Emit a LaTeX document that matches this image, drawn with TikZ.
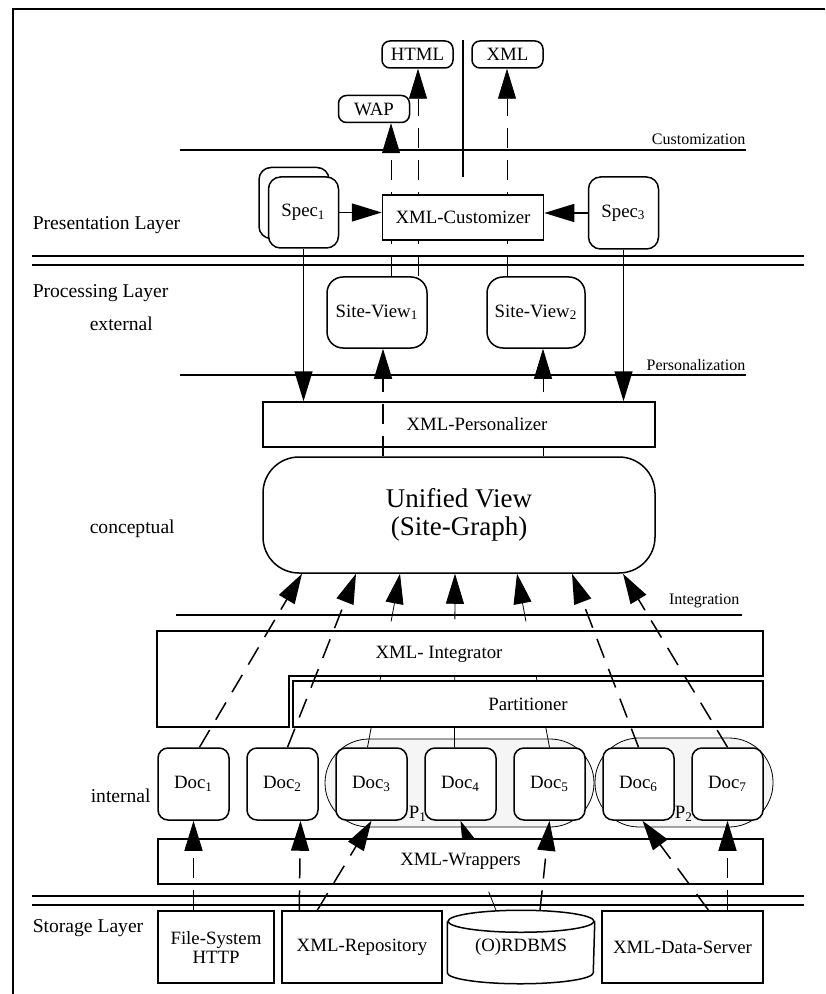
\documentclass[tikz,border=0pt]{standalone}
\usepackage{fontspec}
\setmainfont{Liberation Serif}
\usetikzlibrary{arrows.meta,backgrounds}

\definecolor{partgray}{gray}{0.96}

\begin{document}
\begin{tikzpicture}[x=0.5pt,y=-0.5pt,line width=0.75pt,
	every node/.style={font=\fontsize{9.4}{11}\selectfont},
	box/.style={draw,fill=white,inner sep=1pt},
	rbox/.style={box,rounded corners=6pt},
	docbox/.style={box,rounded corners=5pt,minimum width=35.5pt,minimum height=36pt},
	outbox/.style={box,rounded corners=4pt,minimum width=35.5pt,minimum height=13.5pt},
	flow/.style={dash pattern=on 10pt off 6pt,-{Triangle[length=15pt,width=9pt]}},
	feed/.style={-{Triangle[length=15pt,width=9pt]}},
	tag/.style={font=\fontsize{8}{9}\selectfont,anchor=base east,inner sep=0pt},
	layer/.style={font=\fontsize{9.8}{11}\selectfont,anchor=base west,inner sep=0pt}]
	\useasboundingbox (0,0) rectangle (825,994);
	\draw (13,994) -- (13,9) -- (825,9);

	\node[layer] (presl) at (32,230) {Presentation Layer};
	\node[layer] (procl) at (32,298) {Processing Layer};
	\node[layer] (extl) at (89,330) {external};
	\node[layer] (concl) at (89,533) {conceptual};
	\node[layer] (intl) at (90,802) {internal};
	\node[layer] (storl) at (32,932) {Storage Layer};

	\draw (180,150) -- (746,150);
	\node[tag] (custl) at (746,145) {Customization};
	\draw (180,375) -- (746,375);
	\node[tag] (persl) at (746,370) {Personalization};
	\draw (176,615) -- (742,615);
	\node[tag] (integl) at (740,604) {Integration};
	\draw (32,256) -- (804,256) (32,265) -- (804,265);
	\draw (32,896) -- (804,896) (32,905) -- (804,905);

	\node[outbox] (wap) at (374,109) {WAP};
	\node[outbox] (html) at (417.5,54.5) {HTML};
	\node[outbox] (xmlout) at (507.5,54.5) {XML};
	\draw (463,40) -- (463,177);

	\node[box,minimum width=80.5pt,minimum height=22.5pt] (cust) at (463,217.5) {XML-Customizer};
	\node[rbox,minimum width=35pt,minimum height=35.5pt] (spec1b) at (294,203) {};
	\node[rbox,minimum width=35pt,minimum height=35.5pt] (spec1) at (303.5,212.5) {Spec\textsubscript{1}};
	\node[rbox,minimum width=35pt,minimum height=36pt] (spec3) at (623.5,213) {Spec\textsubscript{3}};

	\node[rbox,rounded corners=8pt,minimum width=50pt,minimum height=35.5pt] (sv1) at (377,312.5) {Site-View\textsubscript{1}};
	\node[rbox,rounded corners=8pt,minimum width=49pt,minimum height=35.5pt] (sv2) at (536,312.5) {Site-View\textsubscript{2}};

	\node[box,minimum width=196pt,minimum height=22.5pt] (pers) at (459,424.5) {};
	\node (perst) at (477,424.5) {XML-Personalizer};
	\node[box,rounded corners=18pt,minimum width=196pt,minimum height=58pt,align=center,
		font=\fontsize{13.5}{14}\selectfont] (uv) at (459,515) {Unified View\\(Site-Graph)};

	\draw[fill=white] (157,631) -- (763,631) -- (763,676) -- (289,676) -- (289,727) -- (157,727) -- cycle;
	\node (integ) at (439,654) {XML- Integrator};
	\node[box,minimum width=235pt,minimum height=23pt] (part) at (528,704) {Partitioner};

	\begin{scope}[on background layer]
		\draw[fill=partgray,rounded corners=22pt] (325,739) rectangle (594,827);
		\draw[fill=partgray,rounded corners=22pt] (595,738) rectangle (773,827);
	\end{scope}
	\foreach \i in {1,...,7}
		\node[docbox] (doc\i) at ({104.5+89*\i},784) {Doc\textsubscript{\i}};
	\node (p1) at (418,814) {P\textsubscript{1}};
	\node (p2) at (684,814) {P\textsubscript{2}};

	\node[box,minimum width=302.5pt,minimum height=22.5pt] (wrap) at (460.5,861.5) {XML-Wrappers};

	\node[box,minimum width=58pt,minimum height=36pt,align=center,
		font=\fontsize{9.4}{9.5}\selectfont] (fs) at (216,947) {File-System\\HTTP};
	\node[box,minimum width=80pt,minimum height=36pt] (repo) at (362,947) {XML-Repository};
	\node[minimum width=73pt,minimum height=36pt,inner sep=0pt] (db) at (521,947) {\raisebox{-4pt}{(O)RDBMS}};
	\draw ([yshift=-5.5pt]db.north west) -- ([yshift=5.5pt]db.south west)
		arc[start angle=180,end angle=0,x radius=73,y radius=11] -- ([yshift=-5.5pt]db.north east);
	\draw ([yshift=-5.5pt]db.north) ellipse[x radius=73,y radius=11];
	\node[box,minimum width=80.5pt,minimum height=36pt] (ds) at (682.5,947) {XML-Data-Server};

	\coordinate (sv1a) at ([xshift=7pt]sv1.north);
	\coordinate (sv1b) at ([xshift=20.5pt]sv1.north);
	\coordinate (sv2a) at ([xshift=-14.5pt]sv2.north);
	\coordinate (sv1c) at ([xshift=3pt]sv1.south);
	\coordinate (sv2c) at ([xshift=3.5pt]sv2.south);

	\begin{scope}[on background layer]
		\draw[flow] (sv1a) -- (sv1a |- wap.south);
		\draw[flow] (sv1b) -- (sv1b |- html.south);
		\draw[flow] (sv2a) -- (sv2a |- xmlout.south);
		\draw[flow] (sv2c |- uv.north) -- (sv2c);
		\draw[flow] ([xshift=-2pt]doc3.north) -- ([xshift=-29.5pt]uv.south);
		\draw[flow] ([xshift=-3pt]doc4.north) -- ([xshift=-2pt]uv.south);
		\draw[flow] (doc5.north) -- ([xshift=29pt]uv.south);
		\draw[flow] ([xshift=-12.5pt]db.north) -- (doc4.south);
	\end{scope}

	\draw[flow] (sv1c |- uv.north) -- (sv1c);
	\draw[feed] (spec1.east) -- (spec1.east -| cust.west);
	\draw[feed] (spec3.west) -- (spec3.west -| cust.east);
	\draw[feed] (spec1.south) -- (spec1.south |- pers.north);
	\draw[feed] (spec3.south) -- (spec3.south |- pers.north);

	\draw[flow] ([xshift=3pt]doc1.north) -- ([xshift=-78.5pt]uv.south);
	\draw[flow] ([xshift=2.5pt]doc2.north) -- ([xshift=-51.5pt]uv.south);
	\draw[flow] (doc6.north) -- ([xshift=56.5pt]uv.south);
	\draw[flow] (doc7.north) -- ([xshift=82pt]uv.south);

	\draw[flow] (fs.north -| doc1.south) -- (doc1.south);
	\draw[flow] ([xshift=9pt]repo.north west) -- ([xshift=9pt]doc2.south);
	\draw[flow] ([xshift=18pt]repo.north west) -- (doc3.south);
	\draw[flow] ([xshift=9.5pt]db.north) -- (doc5.south);
	\draw[flow] ([xshift=13pt]ds.north) -- ([xshift=2pt]doc6.south);
	\draw[flow] (ds.north -| doc7.south) -- (doc7.south);
\end{tikzpicture}
\end{document}
